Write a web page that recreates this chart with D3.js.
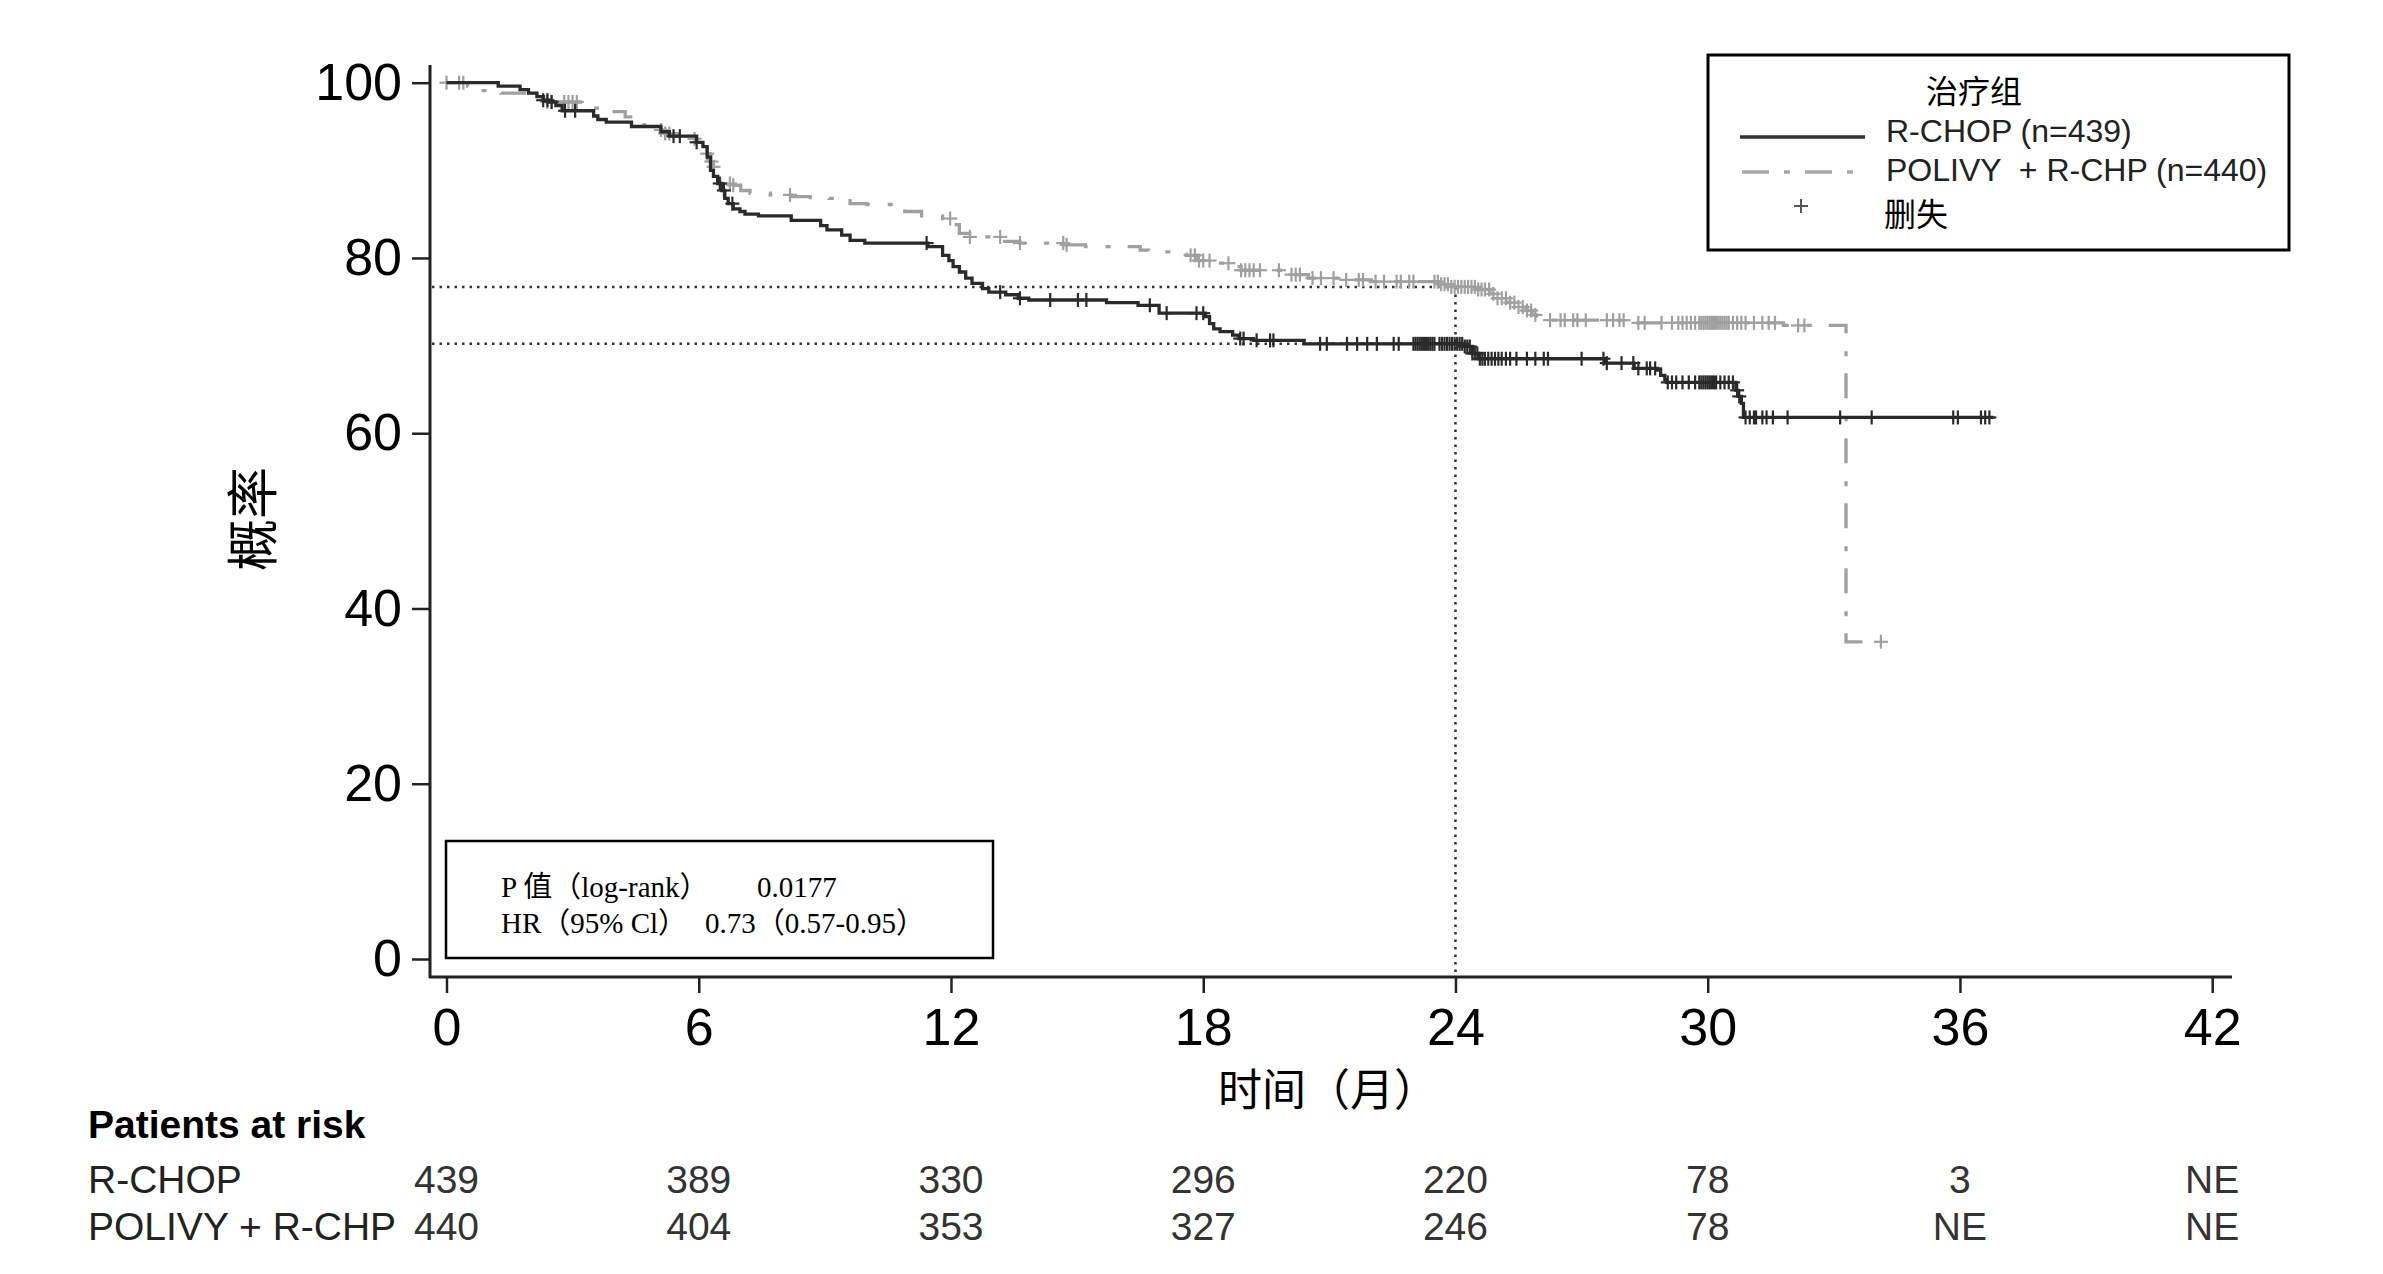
<!DOCTYPE html>
<html>
<head>
<meta charset="utf-8">
<script src="https://cdn.jsdelivr.net/npm/d3@7"></script>
<style>
  body { margin: 0; background: #fff; }
  svg { display: block; }
</style>
</head>
<body>
<svg id="chart" width="2383" height="1274"></svg>
<script>
// step data (months, % event-free)
let rchopTime = [0, 1.23, 1.75, 1.95, 2.15, 2.3, 2.45, 2.6, 2.75, 3.5, 3.6, 3.8, 4.4, 5.1, 5.3, 5.95, 6.1, 6.2, 6.28, 6.35, 6.45, 6.55, 6.62, 6.7, 6.82, 6.98, 7.1, 7.42, 8.2, 8.9, 9.05, 9.4, 9.6, 9.95, 11.45, 11.8, 11.95, 12.05, 12.2, 12.35, 12.5, 12.75, 12.9, 13.3, 13.6, 13.85, 15.7, 16.45, 16.95, 18.05, 18.15, 18.25, 18.4, 18.7, 18.85, 19.2, 20.4, 24.2, 24.4, 24.55, 27.55, 28.25, 28.8, 28.88, 28.98, 29.02, 30.67, 30.72, 30.8, 30.85, 36.8];
let rchopSurv = [100, 99.6, 99.2, 98.8, 98.4, 98.0, 97.8, 97.4, 96.8, 96.2, 95.8, 95.5, 95.0, 94.4, 93.9, 93.2, 92.7, 91.5, 90.0, 89.3, 88.5, 87.7, 86.8, 86.2, 85.6, 85.3, 85.0, 84.8, 84.3, 83.7, 83.2, 82.6, 82.0, 81.7, 81.3, 80.3, 79.7, 79.0, 78.4, 77.7, 77.1, 76.5, 76.1, 75.8, 75.4, 75.2, 74.9, 74.6, 73.7, 73.3, 72.5, 71.9, 71.6, 71.2, 70.8, 70.6, 70.2, 69.9, 69.1, 68.5, 68.0, 67.4, 67.2, 66.6, 66.1, 65.8, 64.9, 64.2, 63.4, 61.8, 61.8];

let polivyTime = [0, 0.5, 0.75, 1.3, 2.0, 2.4, 3.3, 3.9, 4.25, 4.5, 4.7, 5.1, 5.2, 5.9, 6.05, 6.2, 6.27, 6.35, 6.5, 6.75, 7.0, 7.22, 7.7, 8.2, 8.65, 9.1, 9.6, 10.0, 10.9, 11.3, 11.8, 12.0, 12.2, 12.45, 13.2, 13.64, 14.7, 15.2, 16.5, 16.7, 17.6, 17.85, 18.3, 18.65, 18.9, 20.0, 20.1, 20.5, 21.25, 22.0, 23.6, 23.87, 24.5, 24.82, 25.0, 25.22, 25.46, 25.7, 25.82, 25.93, 26.17, 28.3, 31.8, 33.29, 34.12];
let polivySurv = [100, 99.6, 99.1, 98.8, 98.4, 97.8, 97.1, 96.7, 96.1, 95.7, 95.1, 94.6, 94.2, 93.6, 92.5, 91.9, 91.0, 90.4, 88.5, 88.3, 87.7, 87.4, 87.2, 87.0, 86.9, 86.8, 86.2, 86.1, 85.3, 84.8, 84.5, 83.8, 82.8, 82.4, 81.9, 81.7, 81.5, 81.3, 80.9, 80.7, 80.3, 79.7, 79.4, 79.0, 78.6, 78.4, 78.1, 77.7, 77.5, 77.3, 77.0, 76.7, 76.4, 75.9, 75.4, 74.9, 74.4, 74.0, 73.5, 73.1, 72.9, 72.6, 72.3, 36.2, 36.2];

let rchopCensor = [2.3, 2.4, 2.5, 2.82, 3.06, 5.4, 5.55, 5.95, 6.5, 6.6, 6.8, 11.42, 13.17, 13.64, 14.36, 15.02, 15.22, 16.73, 17.13, 17.84, 18.0, 18.88, 18.96, 19.27, 19.59, 19.67, 20.78, 20.94, 21.42, 21.66, 21.9, 22.13, 22.53, 22.65, 23.0, 23.05, 23.1, 23.15, 23.2, 23.25, 23.3, 23.35, 23.4, 23.45, 23.5, 23.62, 23.68, 23.74, 23.8, 23.86, 23.92, 23.98, 24.04, 24.1, 24.16, 24.22, 24.28, 24.34, 24.4, 24.46, 24.52, 24.58, 24.64, 24.7, 24.78, 24.86, 24.94, 25.02, 25.1, 25.2, 25.3, 25.45, 25.7, 25.9, 26.1, 26.2, 27.0, 27.52, 27.6, 27.95, 28.23, 28.35, 28.55, 28.63, 28.75, 29.05, 29.15, 29.25, 29.4, 29.55, 29.7, 29.8, 29.85, 29.9, 29.95, 30.0, 30.05, 30.1, 30.15, 30.2, 30.3, 30.4, 30.5, 30.6, 30.7, 30.75, 30.9, 31.0, 31.1, 31.15, 31.3, 31.4, 31.55, 31.9, 33.15, 33.9, 35.84, 35.95, 36.5, 36.6, 36.7];
let polivyCensor = [0.0, 0.3, 0.4, 2.4, 2.5, 2.8, 2.9, 3.0, 3.1, 5.1, 5.2, 5.3, 5.9, 6.2, 6.3, 6.35, 6.74, 6.82, 8.17, 11.98, 12.45, 13.17, 13.64, 14.67, 14.75, 17.7, 17.8, 17.9, 18.0, 18.15, 18.6, 18.9, 19.0, 19.1, 19.2, 19.35, 19.8, 20.1, 20.2, 20.3, 20.6, 20.8, 21.1, 21.4, 21.7, 21.8, 22.1, 22.3, 22.6, 22.7, 22.9, 23.0, 23.5, 23.58, 23.66, 23.74, 23.82, 23.9, 23.98, 24.06, 24.14, 24.22, 24.3, 24.38, 24.46, 24.54, 24.62, 24.7, 24.8, 24.9, 25.0, 25.1, 25.2, 25.3, 25.4, 25.5, 25.6, 25.7, 25.8, 25.9, 26.25, 26.5, 26.6, 26.8, 26.9, 27.1, 27.6, 27.75, 27.9, 28.0, 28.35, 28.5, 28.9, 29.15, 29.3, 29.4, 29.5, 29.6, 29.7, 29.8, 29.85, 29.9, 29.95, 30.0, 30.05, 30.1, 30.15, 30.2, 30.25, 30.3, 30.35, 30.4, 30.45, 30.5, 30.6, 30.7, 30.8, 30.9, 31.1, 31.3, 31.45, 31.6, 32.15, 32.3, 34.12];

// 2-year landmark estimates
let landmarkTime = 24;
let landmarkSurv = [76.7, 70.2];

let xTicks = [0, 6, 12, 18, 24, 30, 36, 42];
let yTicks = [0, 20, 40, 60, 80, 100];
let riskRchop = ["439", "389", "330", "296", "220", "78", "3", "NE"];
let riskPolivy = ["440", "404", "353", "327", "246", "78", "NE", "NE"];

const sans = '"Liberation Sans", Arial, sans-serif';
const serif = '"Liberation Serif", "Times New Roman", "Noto Sans CJK SC", serif';
const cjk = '"Noto Sans CJK SC", sans-serif';

let svg = d3.select('#chart');
let x = d3.scaleLinear().domain([0, 42]).range([446.5, 2212.2]);
let y = d3.scaleLinear().domain([0, 100]).range([959, 82.7]);

function survAt(times, surv, t) {
    let i = d3.bisectRight(times, t) - 1;
    return surv[Math.max(0, i)];
}

function drawAxes() {
    // y axis
    let gy = svg.append('g')
        .attr('transform', 'translate(430,0)')
        .call(d3.axisLeft(y).tickValues(yTicks).tickSize(18).tickPadding(10));
    gy.select('.domain').remove();
    gy.selectAll('.tick line').attr('stroke', '#222').attr('stroke-width', 2.5);
    gy.selectAll('.tick text').attr('font-family', sans).attr('font-size', 52).attr('fill', '#000');
    svg.append('line')
        .attr('x1', 430).attr('x2', 430).attr('y1', 65).attr('y2', 978)
        .attr('stroke', '#222').attr('stroke-width', 3);

    // x axis
    let gx = svg.append('g')
        .attr('transform', 'translate(0,977)')
        .call(d3.axisBottom(x).tickValues(xTicks).tickSize(16).tickPadding(15));
    gx.select('.domain').remove();
    gx.selectAll('.tick line').attr('stroke', '#222').attr('stroke-width', 2.5);
    gx.selectAll('.tick text').attr('font-family', sans).attr('font-size', 52).attr('fill', '#000');
    svg.append('line')
        .attr('x1', 429).attr('x2', 2232).attr('y1', 977).attr('y2', 977)
        .attr('stroke', '#222').attr('stroke-width', 3);

    svg.append('text')
        .attr('transform', 'translate(272,519) rotate(-90)')
        .attr('text-anchor', 'middle')
        .attr('font-family', cjk).attr('font-size', 52)
        .text('概率');

    svg.append('text')
        .attr('x', 1328).attr('y', 1106)
        .attr('text-anchor', 'middle')
        .attr('font-family', cjk).attr('font-size', 44)
        .text('时间（月）');
}

function drawReference() {
    let g = svg.append('g')
        .attr('stroke', '#333').attr('stroke-width', 2.5)
        .attr('stroke-dasharray', '2.5,5');
    g.selectAll('line.h')
        .data(landmarkSurv)
        .join('line')
        .attr('class', 'h')
        .attr('x1', 432).attr('x2', x(landmarkTime))
        .attr('y1', d => y(d)).attr('y2', d => y(d));
    g.append('line')
        .attr('x1', x(landmarkTime)).attr('x2', x(landmarkTime))
        .attr('y1', y(landmarkSurv[0])).attr('y2', 976);
}

function drawCurve(times, surv, censor, color, dash) {
    let pts = times.map((t, i) => [t, surv[i]]);
    let line = d3.line()
        .x(d => x(d[0])).y(d => y(d[1]))
        .curve(d3.curveStepAfter);
    svg.append('path')
        .datum(pts)
        .attr('d', line)
        .attr('fill', 'none')
        .attr('stroke', color)
        .attr('stroke-width', 3.3)
        .attr('stroke-dasharray', dash);

    let g = svg.append('g').attr('stroke', color).attr('stroke-width', 2.2);
    let marks = g.selectAll('g')
        .data(censor)
        .join('g')
        .attr('transform', d => `translate(${x(d)},${y(survAt(times, surv, d))})`);
    marks.append('line').attr('x1', -7).attr('x2', 7);
    marks.append('line').attr('y1', -7).attr('y2', 7);
}

function drawLegend() {
    let g = svg.append('g');
    g.append('rect')
        .attr('x', 1708).attr('y', 55).attr('width', 581).attr('height', 195)
        .attr('fill', 'none').attr('stroke', '#000').attr('stroke-width', 3);
    g.append('text')
        .attr('x', 1926).attr('y', 103)
        .attr('font-family', cjk).attr('font-size', 32)
        .text('治疗组');
    g.append('line')
        .attr('x1', 1740).attr('x2', 1865).attr('y1', 137).attr('y2', 137)
        .attr('stroke', '#333').attr('stroke-width', 3.3);
    g.append('line')
        .attr('x1', 1742).attr('x2', 1865).attr('y1', 172).attr('y2', 172)
        .attr('stroke', '#a8a8a8').attr('stroke-width', 3.3)
        .attr('stroke-dasharray', '27,15,6,15');
    g.append('path')
        .attr('d', 'M1794,206H1808M1801,199V213')
        .attr('stroke', '#555').attr('stroke-width', 2);
    let labels = ['R-CHOP (n=439)', 'POLIVY  + R-CHP (n=440)'];
    g.selectAll('text.lab')
        .data(labels)
        .join('text')
        .attr('class', 'lab')
        .attr('x', 1886)
        .attr('y', (d, i) => 142 + i * 39)
        .attr('font-family', sans).attr('font-size', 32).attr('fill', '#222')
        .style('white-space', 'pre')
        .text(d => d);
    g.append('text')
        .attr('x', 1884).attr('y', 226)
        .attr('font-family', cjk).attr('font-size', 32)
        .text('删失');
}

function drawStats() {
    let g = svg.append('g');
    g.append('rect')
        .attr('x', 446).attr('y', 841).attr('width', 547).attr('height', 117)
        .attr('fill', '#fff').attr('stroke', '#000').attr('stroke-width', 2.5);
    let rows = [
        { label: 'P 值（log-rank）', value: '0.0177', vx: 757, y: 897 },
        { label: 'HR（95% Cl）', value: '0.73（0.57-0.95）', vx: 705, y: 933 }
    ];
    g.selectAll('text.l')
        .data(rows)
        .join('text')
        .attr('class', 'l')
        .attr('x', 501).attr('y', d => d.y)
        .attr('font-family', serif).attr('font-size', 29)
        .text(d => d.label);
    g.selectAll('text.v')
        .data(rows)
        .join('text')
        .attr('class', 'v')
        .attr('x', d => d.vx).attr('y', d => d.y)
        .attr('font-family', serif).attr('font-size', 29)
        .text(d => d.value);
}

function drawRisk() {
    svg.append('text')
        .attr('x', 88).attr('y', 1138)
        .attr('font-family', sans).attr('font-size', 39).attr('font-weight', 'bold')
        .text('Patients at risk');
    let rows = [
        { name: 'R-CHOP', vals: riskRchop, y: 1193 },
        { name: 'POLIVY + R-CHP', vals: riskPolivy, y: 1240 }
    ];
    rows.forEach(r => {
        svg.append('text')
            .attr('x', 88).attr('y', r.y)
            .attr('font-family', sans).attr('font-size', 39).attr('fill', '#222')
            .text(r.name);
        svg.append('g').selectAll('text')
            .data(r.vals)
            .join('text')
            .attr('x', (d, i) => x(xTicks[i]))
            .attr('y', r.y)
            .attr('text-anchor', 'middle')
            .attr('font-family', sans).attr('font-size', 39).attr('fill', '#333')
            .text(d => d);
    });
}

drawAxes();
drawReference();
drawCurve(polivyTime, polivySurv, polivyCensor, '#a0a0a0', '25,18,5,17');
drawCurve(rchopTime, rchopSurv, rchopCensor, '#2a2a2a', null);
drawStats();
drawLegend();
drawRisk();
</script>
</body>
</html>
